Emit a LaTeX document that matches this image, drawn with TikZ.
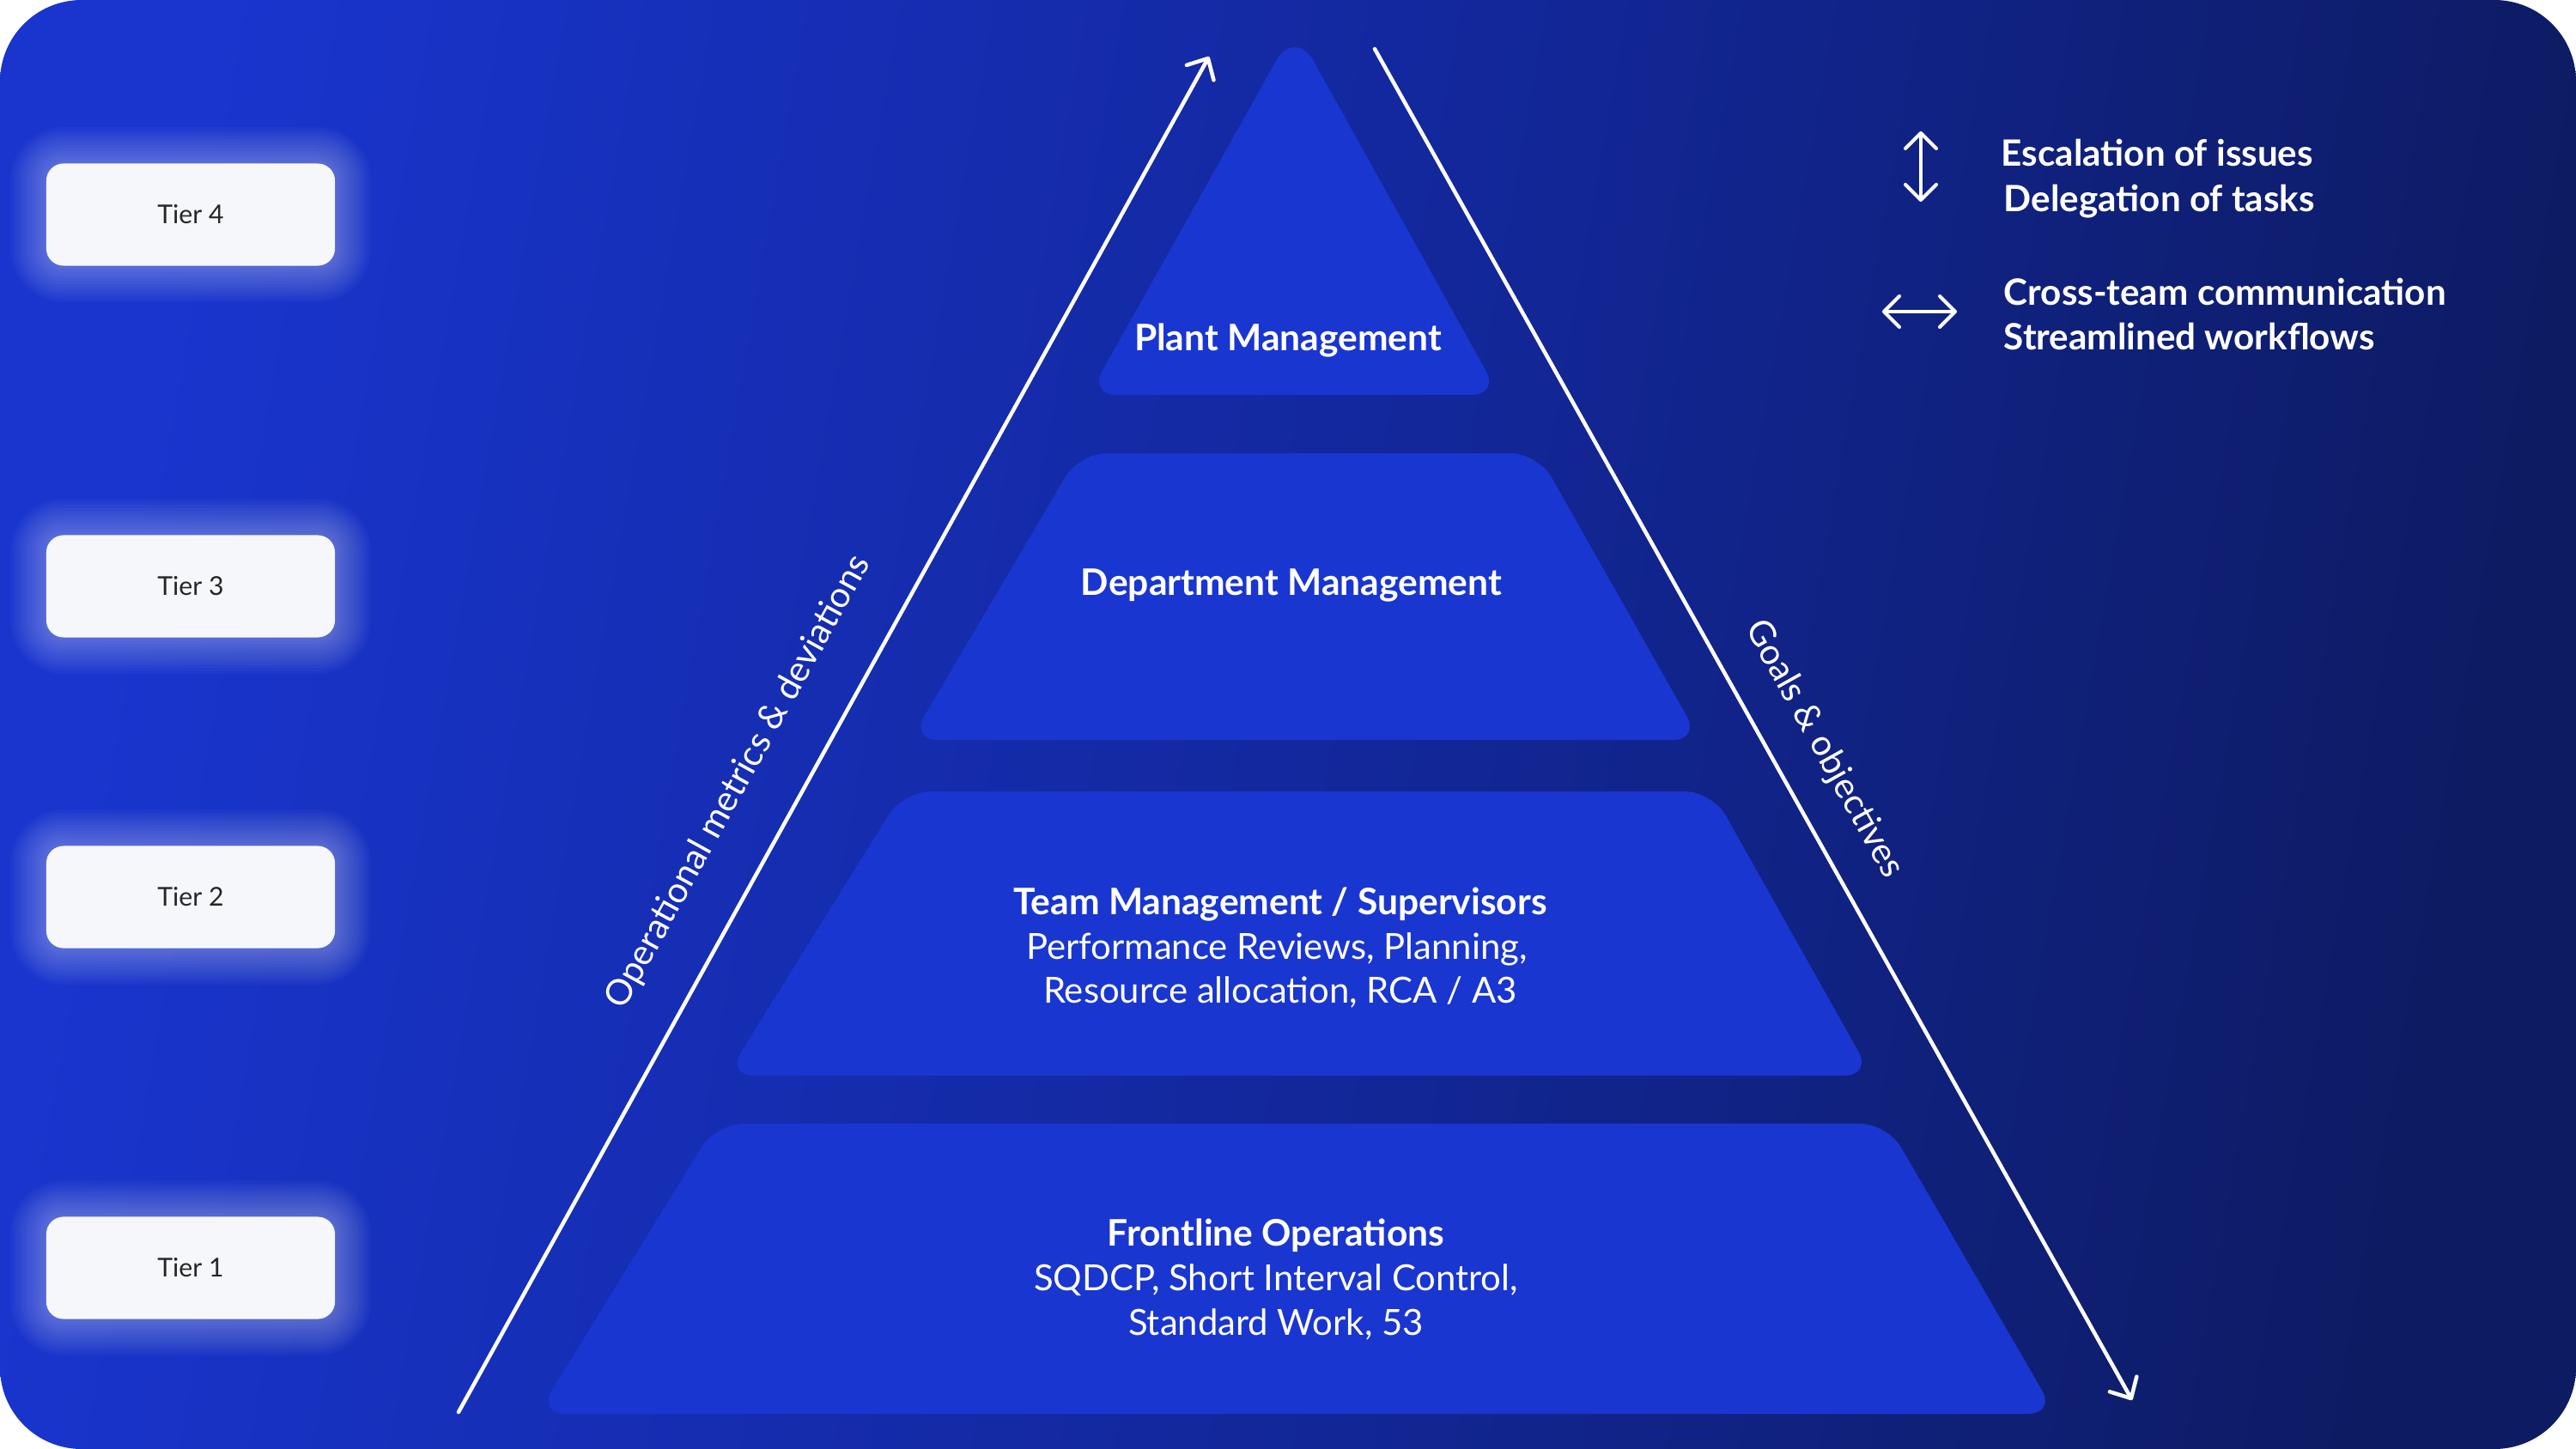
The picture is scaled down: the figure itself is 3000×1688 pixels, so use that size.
\documentclass[tikz,border=0pt]{standalone}
\usepackage{fontspec}
\setmainfont{Lato}
\usetikzlibrary{arrows.meta}
\definecolor{bgA}{RGB}{25,53,206}
\definecolor{bgM}{RGB}{19,40,158}
\definecolor{bgB}{RGB}{13,27,98}
\definecolor{layerfill}{RGB}{26,54,208}
\definecolor{tierfill}{RGB}{246,247,251}
\definecolor{tiertext}{RGB}{38,38,40}
\tikzset{
  tierbox/.style={rounded corners=0.2cm, fill=tierfill, minimum width=3.36cm, minimum height=1.19cm, inner sep=0pt, text=tiertext, font=\fontsize{8.6}{10}\selectfont},
  layer/.style={fill=layerfill, rounded corners=0.32cm},
  head/.style={text=white, anchor=base, inner sep=0pt, font=\fontsize{12.1}{14}\selectfont\bfseries},
  body/.style={text=white, anchor=base, inner sep=0pt, font=\fontsize{11.9}{14}\selectfont},
  legtext/.style={text=white, anchor=base west, inner sep=0pt, font=\fontsize{12.0}{14}\selectfont\bfseries},
  sidelabel/.style={text=white, inner sep=0pt, font=\fontsize{11.75}{14}\selectfont},
  flow/.style={draw=white, line width=0.045cm, line cap=round, -{Straight Barb[length=0.19cm,width=0.36cm,round]}},
  legarrow/.style={draw=white, line width=0.04cm, line cap=round, {Straight Barb[length=0.18cm,width=0.36cm,round]}-{Straight Barb[length=0.18cm,width=0.36cm,round]}}
}
\begin{document}
\begin{tikzpicture}[x=0.01cm,y=-0.01cm]
\useasboundingbox (0,0) rectangle (3000,1688);
\fill[white] (0,0) rectangle (3000,1688);
% background
\path[rounded corners=0.95cm, left color=bgA, right color=bgB, middle color=bgM, shading angle=80] (0,0) rectangle (3000,1688);

% soft glows behind tier boxes
\foreach \yc in {250,683,1045,1477}{
  \foreach \g [evaluate=\g as \rc using 0.2+\g*0.035] in {1,...,12}{
    \fill[white, opacity=0.028, rounded corners=\rc cm] (54-\g*3.5,\yc-60-\g*3.5) rectangle (390+\g*3.5,\yc+60+\g*3.5);
  }
}
% tier boxes
\node[tierbox] (t4) at (222,250) {Tier 4};
\node[tierbox] (t3) at (222,683) {Tier 3};
\node[tierbox] (t2) at (222,1045) {Tier 2};
\node[tierbox] (t1) at (222,1477) {Tier 1};

% pyramid layers
\fill[layer] (1510,460) -- (1268,460) [rounded corners=0.45cm] -- (1508,32) [rounded corners=0.32cm] -- (1746,460) -- cycle;
\fill[layer] (1518,862) -- (1060,862) -- (1257,528) -- (1791,528) -- (1980,862) -- cycle;
\fill[layer] (1512,1253) -- (846,1253) -- (1052,922) -- (1994,922) -- (2180,1253) -- cycle;
\fill[layer] (1512,1647) -- (626,1647) -- (834,1309) -- (2198,1309) -- (2394,1647) -- cycle;

% layer texts
\node[head] (pm) at (1500,408) {Plant Management};
\node[head] (dm) at (1504,693) {Department Management};
\node[head] (tm) at (1491,1065) {Team Management / Supervisors};
\node[body] (tm2) at (1487,1117) {Performance Reviews, Planning,};
\node[body] (tm3) at (1491,1168) {Resource allocation, RCA / A3};
\node[head] (fo) at (1486,1451) {Frontline Operations};
\node[body] (fo2) at (1486,1503) {SQDCP, Short Interval Control,};
\node[body] (fo3) at (1486,1555) {Standard Work, 53};

% side arrows
\coordinate (ls) at (534,1645);
\coordinate (le) at (1408,66);
\draw[flow] (ls) -- (le);
\coordinate (rs) at (1601,57);
\coordinate (re) at (2483,1631);
\draw[flow] (rs) -- (re);
\node[sidelabel, rotate=61.1] (opl) at (860,911) {Operational metrics \& deviations};
\node[sidelabel, rotate=-60.8] (gol) at (2124,873) {Goals \& objectives};

% legend
\coordinate (va) at (2237,153);
\coordinate (vb) at (2237,235);
\draw[legarrow] (va) -- (vb);
\coordinate (ha) at (2192,363);
\coordinate (hb) at (2279,363);
\draw[legarrow] (ha) -- (hb);
\node[legtext] (l1) at (2330,193) {Escalation of issues};
\node[legtext] (l2) at (2333,246) {Delegation of tasks};
\node[legtext] (l3) at (2333,355) {Cross-team communication};
\node[legtext] (l4) at (2333,407) {Streamlined workflows};
\end{tikzpicture}
\end{document}
